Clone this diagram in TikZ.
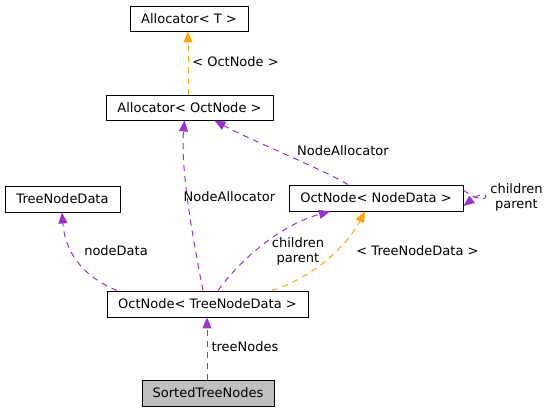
\documentclass[tikz,border=0pt]{standalone}
\usepackage{fontspec}
\setmainfont{DejaVu Sans}
\usetikzlibrary{arrows.meta}
\definecolor{edgepurple}{HTML}{9A32CD}
\definecolor{edgeorange}{HTML}{FFA500}
\definecolor{boxgray}{HTML}{BFBFBF}
\tikzset{
  cls/.style={draw=black, line width=0.9pt, fill=white, inner sep=0pt, font=\fontsize{13}{15}\selectfont},
  rel/.style={edgepurple, line width=1pt, dash pattern=on 6pt off 5pt, -{Triangle[length=11pt,width=9pt]}},
  tmpl/.style={edgeorange, line width=1pt, dash pattern=on 6pt off 5pt, -{Triangle[length=11pt,width=9pt]}},
  lbl/.style={font=\fontsize{13}{15}\selectfont, align=center, inner sep=0pt}
}
\begin{document}
\begin{tikzpicture}[x=1pt,y=-1pt]
\useasboundingbox (0,0) rectangle (549,412);
\node[cls, minimum width=118pt, minimum height=25pt] (AT) at (189,18.5) {Allocator< T >};
\node[cls, minimum width=167pt, minimum height=25pt] (AO) at (189.5,107.5) {Allocator< OctNode >};
\node[cls, minimum width=174pt, minimum height=26pt] (ON) at (376,198) {OctNode< NodeData >};
\node[cls, minimum width=115pt, minimum height=26pt] (TND) at (62.5,199) {TreeNodeData};
\node[cls, minimum width=201pt, minimum height=26pt] (OTN) at (207.5,304) {OctNode< TreeNodeData >};
\node[cls, fill=boxgray, minimum width=132pt, minimum height=26pt] (STN) at (208,393) {SortedTreeNodes};

% Allocator<OctNode> -> Allocator<T>
\draw[tmpl] ([xshift=-1.5pt]AO.north) -- ([xshift=-1pt]AT.south);
\node[lbl] (l1) at (235.5,62) {< OctNode >};

% OctNode<TreeNodeData> -> Allocator<OctNode>
\draw[rel] ([xshift=-4.5pt]OTN.north) .. controls (195,250) and (180,170) .. ([xshift=-5pt]AO.south);
\node[lbl] (l2) at (229.5,197) {NodeAllocator};

% OctNode<NodeData> -> Allocator<OctNode>
\draw[rel] ([xshift=-28pt]ON.north) .. controls (320,168) and (250,140) .. ([xshift=25pt]AO.south);
\node[lbl] (l3) at (343,151) {NodeAllocator};

% OctNode<TreeNodeData> -> OctNode<NodeData> (children/parent)
\draw[rel] ([xshift=10.5pt]OTN.north) .. controls (240,260) and (280,225) .. ([xshift=-46pt]ON.south);
\node[lbl] (l4) at (298,251) {children\\parent};

% OctNode<TreeNodeData> -> OctNode<NodeData> (template)
\draw[tmpl] ([xshift=64.5pt]OTN.north) .. controls (320,275) and (350,240) .. ([xshift=-11pt]ON.south);
\node[lbl] (l5) at (417.5,251) {< TreeNodeData >};

% self loop
\draw[rel] ([yshift=8pt]ON.east) .. controls (492,212) and (492,184) .. ([yshift=-8pt]ON.east);
\node[lbl] (l6) at (516.5,197.5) {children\\parent};

% OctNode<TreeNodeData> -> TreeNodeData
\draw[rel] ([xshift=-90.5pt]OTN.north) .. controls (80,275) and (65,250) .. ([xshift=-0.5pt]TND.south);
\node[lbl] (l7) at (116,251) {nodeData};

% SortedTreeNodes -> OctNode<TreeNodeData>
\draw[rel] ([xshift=-1pt]STN.north) -- ([xshift=-0.5pt]OTN.south);
\node[lbl] (l8) at (245,347) {treeNodes};
\end{tikzpicture}
\end{document}
